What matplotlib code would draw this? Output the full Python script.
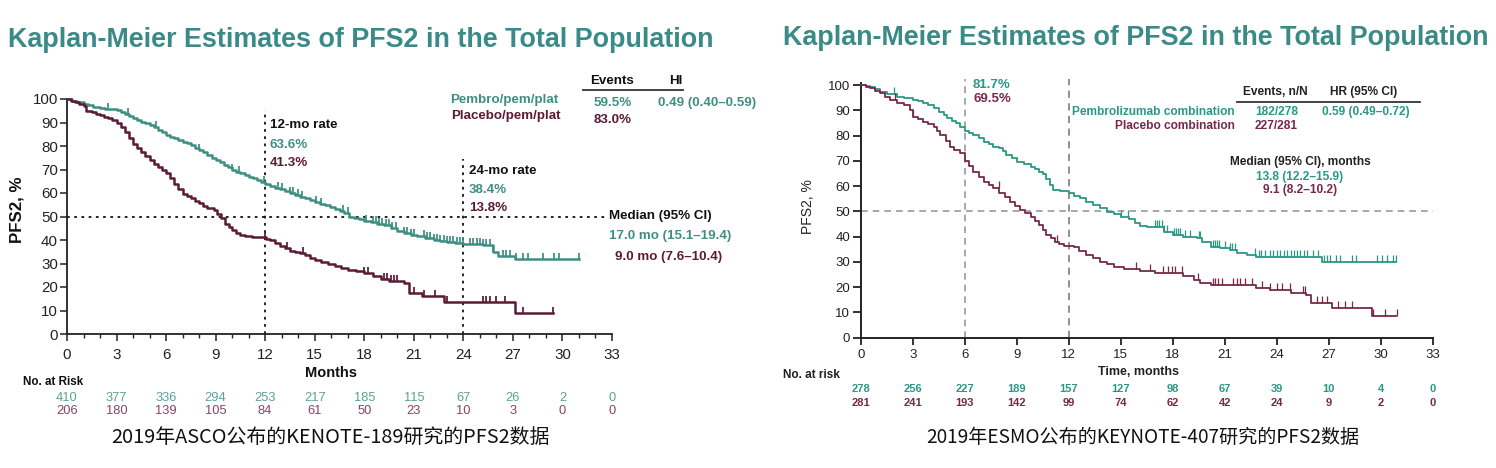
import numpy as np
import matplotlib
matplotlib.use('Agg')
import matplotlib.pyplot as plt
from matplotlib import font_manager as fm
from matplotlib.transforms import blended_transform_factory
from matplotlib.ticker import MultipleLocator

# ---------------- data : KEYNOTE-189 (left) ----------------
months_ticks = [0, 3, 6, 9, 12, 15, 18, 21, 24, 27, 30, 33]

k189_pem_t = [0, 0.3, 0.6, 1.0, 1.3, 1.6, 2.0, 2.3, 2.6, 3.0, 3.25, 3.5, 3.75, 4.0, 4.25, 4.5, 4.75,
              5.0, 5.25, 5.5, 5.75, 6.0, 6.25, 6.5, 6.75, 7.0, 7.25, 7.5, 7.75, 8.0, 8.25, 8.5, 8.75,
              9.0, 9.25, 9.5, 9.75, 10.0, 10.25, 10.5, 10.75, 11.0, 11.25, 11.5, 11.75, 12.0, 12.3,
              12.6, 12.9, 13.2, 13.5, 13.8, 14.1, 14.4, 14.7, 15.0, 15.3, 15.6, 15.9, 16.2, 16.5,
              16.8, 17.1, 17.4, 17.7, 18.0, 18.4, 18.8, 19.2, 19.6, 20.0, 20.4, 20.8, 21.2, 21.7,
              22.2, 22.6, 23.0, 23.5, 24.0, 24.6, 25.2, 25.8, 26.1, 27.1]
k189_pem_s = [100, 99.3, 98.6, 97.8, 97.3, 96.8, 96.2, 95.9, 95.6, 95.2, 94.4, 93.5, 92.7, 91.8, 91.0,
              90.3, 89.6, 89, 88, 87, 85.9, 84.7, 84.0, 83.2, 82.5, 81.8, 81.2, 80.3, 79.3, 78.3, 77.3,
              76.2, 75.1, 74, 73, 72, 70.9, 69.8, 69.1, 68.4, 67.7, 67, 66.2, 65.4, 64.6, 63.8, 63.0,
              62.3, 61.5, 60.8, 60.0, 59.2, 58.4, 57.7, 57.0, 56.3, 55.5, 54.7, 53.9, 53.2, 52.4, 51.3,
              50, 49.4, 48.8, 48.2, 47.7, 47, 46.2, 45.2, 44.0, 42.8, 42.2, 41.5, 40.8, 40, 39.7, 39.3,
              38.9, 38.5, 38.2, 37.9, 35, 33.2, 31.8]
k189_pem_end = 31.0
k189_pem_cens = [2.5, 3.7, 5.4, 8.0, 10.0, 10.4, 11.9, 12.8, 13.0, 13.5, 13.7, 14.0, 14.2, 15.1, 15.4,
                 16.7, 17.0, 18.1, 18.5, 18.7, 18.9, 19.1, 19.3, 19.5, 19.7, 19.9, 20.4, 20.6, 20.8,
                 21.0, 21.6, 21.8, 22.0, 22.2, 22.4, 22.6, 22.8, 23.0, 23.2, 23.4, 23.6, 23.8, 24.0,
                 24.4, 24.6, 24.8, 25.0, 25.2, 25.4, 25.6, 25.8, 26.4, 26.6, 26.8, 27.2, 27.6, 27.9,
                 28.8, 29.5, 29.8, 31.0]

k189_pbo_t = [0, 0.25, 0.5, 0.75, 1.0, 1.15, 1.5, 1.75, 2.0, 2.25, 2.5, 2.75, 3.0, 3.25, 3.5, 3.75,
              4.0, 4.25, 4.5, 4.75, 5.0, 5.25, 5.5, 5.75, 6.0, 6.25, 6.5, 6.75, 7.0, 7.25, 7.5, 7.75,
              8.0, 8.25, 8.5, 8.9, 9.1, 9.3, 9.55, 9.8, 10.0, 10.25, 10.5, 10.8, 11.2, 12.05, 12.3,
              12.6, 12.9, 13.2, 13.5, 13.8, 14.1, 14.4, 14.7, 15.0, 15.4, 15.8, 16.2, 16.6, 17.0,
              17.5, 18.0, 18.5, 19.0, 19.5, 20.4, 20.7, 21.5, 22.8, 27.1]
k189_pbo_s = [100, 99.3, 98.6, 97.8, 97, 95, 94.5, 93.8, 93, 92.5, 91.8, 91, 89.6, 88, 86, 83.5, 81,
              79.3, 77.6, 75.8, 74, 72.5, 71, 69.8, 68.5, 66.3, 64, 61.8, 59.6, 58.6, 57.7, 56.6,
              55.6, 54.5, 53.5, 52.6, 51, 49.2, 47, 45.6, 44.3, 43.1, 42, 41.5, 41.3, 40.5, 39.8,
              38.8, 37.5, 36.5, 35.5, 35, 34.5, 33.8, 32.5, 31.5, 30.5, 29.8, 29, 28.2, 27.4, 26.8,
              25.8, 24.5, 23.5, 22.6, 21.5, 17.4, 16.3, 13.8, 9]
k189_pbo_end = 29.4
k189_pbo_cens = [12.0, 13.3, 14.3, 18.0, 18.2, 19.2, 19.4, 19.6, 19.8, 20.0, 21.0, 21.6, 22.3,
                 23.0, 25.2, 25.4, 25.6, 26.0, 26.5, 27.6, 29.4]

k189_risk_pem = [410, 377, 336, 294, 253, 217, 185, 115, 67, 26, 2, 0]
k189_risk_pbo = [206, 180, 139, 105, 84, 61, 50, 23, 10, 3, 0, 0]

# ---------------- data : KEYNOTE-407 (right) ----------------
k407_pem_t = [0, 0.3, 0.54, 0.8, 1.1, 1.5, 2.1, 2.5, 3.0, 3.3, 3.6, 3.9, 4.2, 4.5, 4.8, 5.0, 5.25,
              5.5, 5.75, 6.0, 6.25, 6.5, 6.8, 7.1, 7.4, 7.65, 8.0, 8.2, 8.4, 8.7, 9.0, 9.4, 9.8,
              10.05, 10.3, 10.5, 10.7, 10.9, 11.1, 11.5, 12.0, 12.3, 12.65, 13.0, 13.4, 13.8, 14.2,
              14.6, 15.0, 15.5, 15.8, 16.1, 16.5, 17.0, 17.5, 18.0, 18.6, 19.4, 19.7, 20.2, 20.7,
              21.3, 21.7, 22.3, 22.8, 26.6]
k407_pem_s = [100, 99.7, 99.3, 98.5, 97.4, 96.5, 95.4, 94.8, 94, 93.5, 93, 92, 90.8, 89.5, 88, 86.8,
              85.8, 84.8, 83.3, 82.0, 81.2, 80.2, 78.9, 77.6, 76.5, 75.6, 75, 73.8, 72.3, 71, 69.7,
              68.7, 67.7, 66.7, 65.7, 64.6, 63, 60.5, 58.4, 58, 57.1, 56.1, 55.1, 53.8, 52.5, 51.2,
              49.9, 48.9, 47.9, 46.8, 45.5, 44.3, 44.0, 43.9, 42, 40.6, 40, 39.3, 38, 36, 35.4, 34.7,
              33.6, 32.7, 32.1, 30.1]
k407_pem_end = 30.9
k407_pem_cens = [1.9, 15.0, 15.4, 17.0, 17.1, 17.2, 17.4, 17.5, 17.65, 18.1, 18.2, 18.3, 18.4, 18.7,
                 19.0, 19.5, 19.6, 20.35, 20.45, 20.55, 20.65, 21.0, 21.3, 21.4, 21.6, 22.75, 22.95,
                 23.1, 23.3, 23.6, 23.8, 24.0, 24.2, 24.4, 24.6, 24.8, 25.0, 25.15, 25.35, 25.55,
                 25.75, 26.1, 26.4, 26.7, 26.9, 27.1, 27.4, 27.65, 28.35, 28.6, 29.8, 30.05, 30.35,
                 30.7, 30.9]

k407_pbo_t = [0, 0.3, 0.54, 0.8, 1.1, 1.4, 1.7, 2.1, 2.5, 2.85, 3.0, 3.3, 3.6, 3.9, 4.2, 4.4, 4.6,
              4.9, 5.15, 5.4, 5.7, 6.0, 6.25, 6.5, 6.8, 7.1, 7.4, 7.65, 8.0, 8.3, 8.6, 8.9, 9.2, 9.5,
              9.8, 10.05, 10.3, 10.5, 10.7, 10.95, 11.2, 11.45, 11.7, 12.3, 12.6, 13.0, 13.4, 13.8,
              14.2, 14.6, 15.2, 16.1, 17.0, 18.6, 19.2, 19.6, 20.2, 22.8, 23.6, 24.8, 25.7, 26.0,
              27.2, 29.5]
k407_pbo_s = [100, 99.3, 98.7, 97.7, 96.7, 95.3, 94, 93, 92, 90, 87.5, 86.5, 85.5, 84.5, 83.5, 82,
              80.2, 77.8, 75.6, 74.3, 73, 69.8, 68, 65.7, 63.7, 61.7, 60.3, 59.1, 57.1, 55.5, 53.8,
              52.1, 50.5, 49.2, 47.9, 46.2, 44.6, 42.6, 40.6, 39.3, 38, 37, 36.3, 35.8, 34.3, 32.7,
              31.4, 30.1, 29.1, 28.1, 27, 26.5, 25.5, 24.4, 22.8, 21.5, 20.8, 19.5, 18.9, 17.5, 16.9,
              13.6, 11.9, 8.6]
k407_pbo_end = 30.9
k407_pbo_cens = [1.98, 3.0, 7.95, 11.3, 15.9, 16.7, 17.46, 17.75, 17.94, 18.13, 18.52, 19.48, 20.35,
                 20.44, 20.63, 20.83, 21.5, 21.69, 21.88, 22.17, 22.56, 23.13, 23.62, 24.0, 24.29,
                 24.77, 25.54, 25.63, 26.3, 26.6, 26.88, 27.56, 27.94, 28.33, 29.58, 30.25, 30.92]

k407_risk_pem = [278, 256, 227, 189, 157, 127, 98, 67, 39, 10, 4, 0]
k407_risk_pbo = [281, 241, 193, 142, 99, 74, 62, 42, 24, 9, 2, 0]

# ---------------- fonts ----------------
names = {f.name for f in fm.fontManager.ttflist}
NARROW = 'Liberation Sans Narrow' if 'Liberation Sans Narrow' in names else 'Liberation Sans'
NSCALE = 1.0 if NARROW == 'Liberation Sans Narrow' else 0.84
ARIAL = 'Liberation Sans'
CJK = 'Noto Sans CJK SC'

W, H = 1496, 468
fig = plt.figure(figsize=(W / 100, H / 100), dpi=100)
fig.patch.set_facecolor('white')
renderer = fig.canvas.get_renderer()


def ptxt(x, y, s, **kw):
    kw.setdefault('va', 'center')
    return fig.text(x / W, 1 - y / H, s, **kw)


def fit_width(t, width_px):
    w = t.get_window_extent(renderer).width
    t.set_fontsize(t.get_fontsize() * width_px / w)


TITLE = '#3a8a88'
TEAL_L = '#3e8f82'
MAROON_L = '#5c1a34'
TEAL_L2 = '#5aa395'
MAROON_L2 = '#85465f'
TEAL_R = '#2b9785'
MAROON_R = '#77294a'


def km(ax, t, s, end, cens, color, lw, ms):
    tt = list(t) + [end]
    ss = list(s) + [s[-1]]
    ax.step(tt, ss, where='post', color=color, lw=lw, clip_on=False, zorder=3)
    idx = np.searchsorted(np.array(t), np.array(cens), side='right') - 1
    ys = np.array(s)[idx]
    ax.plot(cens, ys, linestyle='none', marker=[(0, 0), (0, 1)], ms=ms, mec=color,
            mew=lw * 0.7, clip_on=False, zorder=3)


# ================= LEFT CHART =================
axL = fig.add_axes([67 / W, 1 - 334 / H, (612 - 67) / W, (334 - 99) / H])
axL.set_xlim(0, 33)
axL.set_ylim(0, 100)
for sp in ['top', 'right']:
    axL.spines[sp].set_visible(False)
for sp in ['left', 'bottom']:
    axL.spines[sp].set_linewidth(1.3)
    axL.spines[sp].set_color('#222222')
axL.xaxis.set_major_locator(MultipleLocator(3))
axL.xaxis.set_minor_locator(MultipleLocator(1))
axL.yaxis.set_major_locator(MultipleLocator(10))
axL.tick_params(axis='both', which='major', direction='out', length=5, width=1.1, color='#222222',
                labelcolor='#222222')
axL.tick_params(axis='x', which='minor', direction='out', length=3, width=1.0, color='#222222')
axL.tick_params(axis='x', which='major', pad=5)
axL.tick_params(axis='y', which='major', pad=1.5)
axL.set_xticks(months_ticks)
axL.set_xticklabels([str(m) for m in months_ticks], family=NARROW, fontsize=13 * NSCALE)
axL.set_yticks(range(0, 101, 10))
axL.set_yticklabels([str(v) for v in range(0, 101, 10)], family=NARROW, fontsize=13 * NSCALE)

axL.plot([0, 32.6], [50, 50], color='#111111', ls=(0, (1.5, 2.5)), lw=1.3, zorder=2, clip_on=False)
axL.plot([12, 12], [0, 95.5], color='#111111', ls=(0, (1.5, 2.5)), lw=1.3, zorder=2)
axL.plot([24, 24], [0, 74.5], color='#111111', ls=(0, (1.5, 2.5)), lw=1.3, zorder=2)

km(axL, k189_pem_t, k189_pem_s, k189_pem_end, k189_pem_cens, TEAL_L, 1.8, 9)
km(axL, k189_pbo_t, k189_pbo_s, k189_pbo_end, k189_pbo_cens, MAROON_L, 1.8, 9)

fsL = 11.5 * NSCALE
tL = ptxt(8, 40, 'Kaplan-Meier Estimates of PFS2 in the Total Population', family=NARROW,
          weight='bold', color=TITLE, fontsize=19)
fit_width(tL, 705)
ptxt(270, 125, '12-mo rate', family=NARROW, weight='bold', color='#111111', fontsize=fsL)
ptxt(270, 145, '63.6%', family=NARROW, weight='bold', color=TEAL_L, fontsize=fsL)
ptxt(270, 163, '41.3%', family=NARROW, weight='bold', color=MAROON_L, fontsize=fsL)
ptxt(469, 171, '24-mo rate', family=NARROW, weight='bold', color='#111111', fontsize=fsL)
ptxt(469, 190, '38.4%', family=NARROW, weight='bold', color=TEAL_L, fontsize=fsL)
ptxt(469, 208, '13.8%', family=NARROW, weight='bold', color=MAROON_L, fontsize=fsL)

ptxt(612, 81, 'Events', family=NARROW, weight='bold', color='#111111', fontsize=fsL, ha='center')
ptxt(676, 81, 'HI', family=NARROW, weight='bold', color='#111111', fontsize=fsL, ha='center')
fig.add_artist(plt.Line2D([583 / W, 683 / W], [1 - 89.5 / H, 1 - 89.5 / H], color='#333333', lw=1.3))
ptxt(558, 100, 'Pembro/pem/plat', family=NARROW, weight='bold', color=TEAL_L, fontsize=fsL, ha='right')
ptxt(561, 116, 'Placebo/pem/plat', family=NARROW, weight='bold', color=MAROON_L, fontsize=fsL, ha='right')
ptxt(613, 103, '59.5%', family=NARROW, weight='bold', color=TEAL_L, fontsize=fsL, ha='center')
ptxt(613, 120, '83.0%', family=NARROW, weight='bold', color=MAROON_L, fontsize=fsL, ha='center')
ptxt(658, 103, '0.49 (0.40–0.59)', family=NARROW, weight='bold', color=TEAL_L, fontsize=fsL)
ptxt(609, 216, 'Median (95% CI)', family=NARROW, weight='bold', color='#111111', fontsize=fsL)
ptxt(609, 236, '17.0 mo (15.1–19.4)', family=NARROW, weight='bold', color=TEAL_L, fontsize=fsL)
ptxt(615, 257, '9.0 mo (7.6–10.4)', family=NARROW, weight='bold', color=MAROON_L, fontsize=fsL)

ptxt(17, 210, 'PFS2, %', family=NARROW, weight='bold', color='#111111', fontsize=14.5 * NSCALE,
     rotation=90, ha='center')
ptxt(331, 373, 'Months', family=NARROW, weight='bold', color='#111111', fontsize=12.5 * NSCALE, ha='center')
ptxt(23, 382, 'No. at Risk', family=NARROW, weight='bold', color='#111111', fontsize=10 * NSCALE)

trL = blended_transform_factory(axL.transData, fig.transFigure)
for m, a, b in zip(months_ticks, k189_risk_pem, k189_risk_pbo):
    axL.text(m, 1 - 398 / H, str(a), transform=trL, ha='center', va='center', family=NARROW,
             fontsize=11 * NSCALE, color=TEAL_L2, clip_on=False)
    axL.text(m, 1 - 411 / H, str(b), transform=trL, ha='center', va='center', family=NARROW,
             fontsize=11 * NSCALE, color=MAROON_L2, clip_on=False)

cL = ptxt(330, 437, '2019年ASCO公布的KENOTE-189研究的PFS2数据', family=[CJK, 'DejaVu Sans'],
          fontsize=13.5, color='#111111', ha='center')
fit_width(cL, 439)

# ================= RIGHT CHART =================
axR = fig.add_axes([860.7 / W, 1 - 337.7 / H, (1432.7 - 860.7) / W, (337.7 - 82.5) / H])
axR.set_xlim(0, 33)
axR.set_ylim(0, 101)
for sp in ['top', 'right']:
    axR.spines[sp].set_visible(False)
for sp in ['left', 'bottom']:
    axR.spines[sp].set_linewidth(1.4)
    axR.spines[sp].set_color('#222222')
axR.set_xticks(months_ticks)
axR.set_xticklabels([str(m) for m in months_ticks], family=ARIAL, fontsize=9.5)
axR.set_yticks(range(0, 101, 10))
axR.set_yticklabels([str(v) for v in range(0, 101, 10)], family=ARIAL, fontsize=9.5)
axR.tick_params(axis='x', direction='out', length=5, width=1.3, color='#222222', pad=3,
                labelcolor='#222222')
axR.tick_params(axis='y', direction='out', length=6, width=1.3, color='#222222', pad=1.5,
                labelcolor='#222222')

GR = '#9a9a9a'
axR.plot([0, 33], [50, 50], color=GR, ls=(0, (4, 3)), lw=1.2, zorder=2, clip_on=False)
axR.plot([6, 6], [0, 102.5], color=GR, ls=(0, (4, 3)), lw=1.2, zorder=2, clip_on=False)
axR.plot([12, 12], [0, 102.5], color='#888888', ls=(0, (4, 3)), lw=1.3, zorder=2, clip_on=False)

km(axR, k407_pem_t, k407_pem_s, k407_pem_end, k407_pem_cens, TEAL_R, 1.3, 10)
km(axR, k407_pbo_t, k407_pbo_s, k407_pbo_end, k407_pbo_cens, MAROON_R, 1.3, 10)

fsR = 8.6
tR = ptxt(783, 38, 'Kaplan-Meier Estimates of PFS2 in the Total Population', family=NARROW,
          weight='bold', color=TITLE, fontsize=19)
fit_width(tR, 706)
ptxt(973, 85, '81.7%', family=ARIAL, weight='bold', color=TEAL_R, fontsize=9.5)
ptxt(973, 98.5, '69.5%', family=ARIAL, weight='bold', color=MAROON_R, fontsize=9.5)
ptxt(1243, 92, 'Events, n/N', family=ARIAL, weight='bold', color='#222222', fontsize=fsR)
ptxt(1330, 92, 'HR (95% CI)', family=ARIAL, weight='bold', color='#222222', fontsize=fsR)
fig.add_artist(plt.Line2D([1237 / W, 1420 / W], [1 - 102.3 / H, 1 - 102.3 / H], color='#333333', lw=1.3))
ptxt(1235, 112, 'Pembrolizumab combination', family=ARIAL, weight='bold', color=TEAL_R,
     fontsize=fsR, ha='right')
ptxt(1235, 126, 'Placebo combination', family=ARIAL, weight='bold', color=MAROON_R,
     fontsize=fsR, ha='right')
ptxt(1255, 112, '182/278', family=ARIAL, weight='bold', color=TEAL_R, fontsize=fsR)
ptxt(1255, 126, '227/281', family=ARIAL, weight='bold', color=MAROON_R, fontsize=fsR)
ptxt(1322, 112, '0.59 (0.49–0.72)', family=ARIAL, weight='bold', color=TEAL_R, fontsize=fsR)
ptxt(1300, 162, 'Median (95% CI), months', family=ARIAL, weight='bold', color='#222222',
     fontsize=fsR, ha='center')
ptxt(1300, 177, '13.8 (12.2–15.9)', family=ARIAL, weight='bold', color=TEAL_R, fontsize=fsR, ha='center')
ptxt(1300, 190.5, '9.1 (8.2–10.2)', family=ARIAL, weight='bold', color=MAROON_R, fontsize=fsR, ha='center')

ptxt(808, 207, 'PFS2, %', family=ARIAL, color='#222222', fontsize=10, rotation=90, ha='center')
ptxt(1139, 372, 'Time, months', family=ARIAL, weight='bold', color='#222222', fontsize=9, ha='center')
ptxt(783, 374.5, 'No. at risk', family=ARIAL, weight='bold', color='#222222', fontsize=8.5)

trR = blended_transform_factory(axR.transData, fig.transFigure)
for m, a, b in zip(months_ticks, k407_risk_pem, k407_risk_pbo):
    axR.text(m, 1 - 389.5 / H, str(a), transform=trR, ha='center', va='center', family=ARIAL,
             weight='bold', fontsize=8, color=TEAL_R, clip_on=False)
    axR.text(m, 1 - 403.5 / H, str(b), transform=trR, ha='center', va='center', family=ARIAL,
             weight='bold', fontsize=8, color=MAROON_R, clip_on=False)

cR = ptxt(1143, 437, '2019年ESMO公布的KEYNOTE-407研究的PFS2数据', family=[CJK, 'DejaVu Sans'],
          fontsize=13.5, color='#111111', ha='center')
fit_width(cR, 434)

fig.savefig('out.png', dpi=100, facecolor='white')
